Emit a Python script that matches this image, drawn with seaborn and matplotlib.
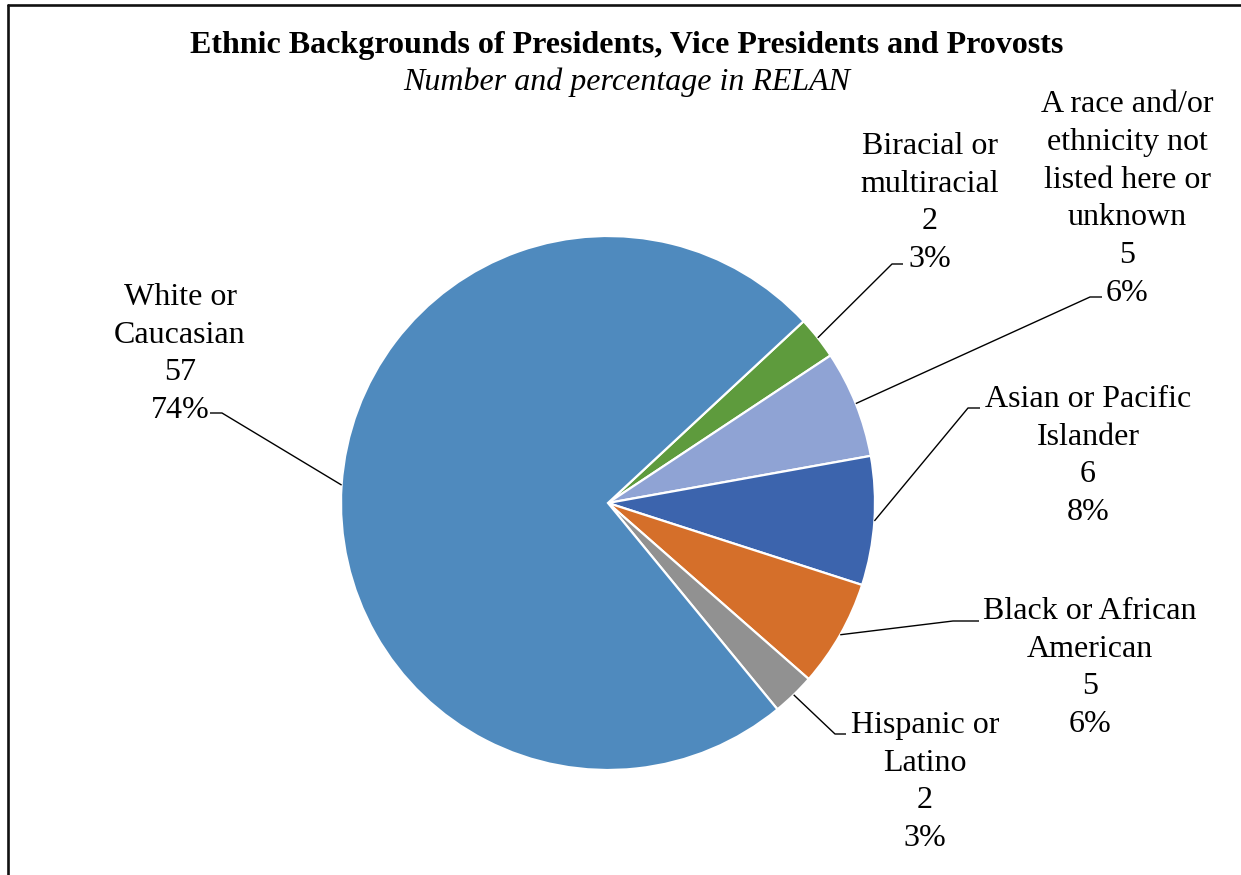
import numpy as np
import seaborn as sns
import matplotlib
matplotlib.use("Agg")
from matplotlib import pyplot as plt
from matplotlib.lines import Line2D

# 数据
categories = ["Biracial or\nmultiracial",
              "A race and/or\nethnicity not\nlisted here or\nunknown",
              "Asian or Pacific\nIslander",
              "Black or African\nAmerican",
              "Hispanic or\nLatino",
              "White or\nCaucasian"]
counts = [2, 5, 6, 5, 2, 57]
colors = ["#5E9B3D", "#8FA3D4", "#3C64AD", "#D56F2A", "#919191", "#4F8ABE"]
title = "Ethnic Backgrounds of Presidents, Vice Presidents and Provosts"
subtitle = "Number and percentage in RELAN"

sns.set_theme(style="white")
plt.rcParams['font.family'] = ['Liberation Serif', 'DejaVu Serif']

W, H = 1241, 875
def Y(y):
    return H - y

fig = plt.figure(figsize=(W / 100, H / 100), dpi=100)
ax = fig.add_axes([0, 0, 1, 1])

cx, cy, r = 608, Y(503), 267
wedges, _ = ax.pie(counts, colors=colors, startangle=42.9, counterclock=False,
                   radius=r, center=(cx, cy),
                   wedgeprops=dict(edgecolor='white', linewidth=1.6))
ax.set_xlim(0, W)
ax.set_ylim(0, H)
ax.set_aspect('auto')
ax.axis('off')

total = sum(counts)
# 标签位置 (文字中心, 折点, 水平线终点)
text_pos = [(930, 203), (1127, 199), (1088, 456), (1090, 668), (925, 782), (180, 354)]
elbows = [((892, 264), (903, 264)), ((1090, 297), (1102, 297)),
          ((968, 408), (980, 408)), ((953, 621), (979, 621)),
          ((835, 734), (846, 734)), ((222, 413), (210, 413))]

for w, lab, n, (tx, ty), (e1, e2) in zip(wedges, categories, counts, text_pos, elbows):
    ang = np.deg2rad((w.theta1 + w.theta2) / 2)
    px, py = cx + r * np.cos(ang), cy + r * np.sin(ang)
    ax.plot([px, e1[0], e2[0]], [py, Y(e1[1]), Y(e2[1])], color='black', lw=1.0,
            solid_capstyle='butt')
    pct = round(n / total * 100)
    ax.text(tx, Y(ty), f"{lab}\n{n}\n{pct}%", ha='center', va='center',
            multialignment='center', fontsize=23, linespacing=1.4, color='black')

ax.text(627, Y(46), title, ha='center', va='center', fontsize=23,
        fontweight='bold', color='black')
ax.text(627, Y(82), subtitle, ha='center', va='center', fontsize=23,
        style='italic', color='black')

# 外框
fig.add_artist(Line2D([8 / W, 8 / W], [0, 1 - 5 / H], transform=fig.transFigure,
                      color='#111111', lw=1.9))
fig.add_artist(Line2D([8 / W, 1], [1 - 5 / H, 1 - 5 / H], transform=fig.transFigure,
                      color='#111111', lw=1.9))

fig.savefig("out.png", dpi=100, facecolor='white')
